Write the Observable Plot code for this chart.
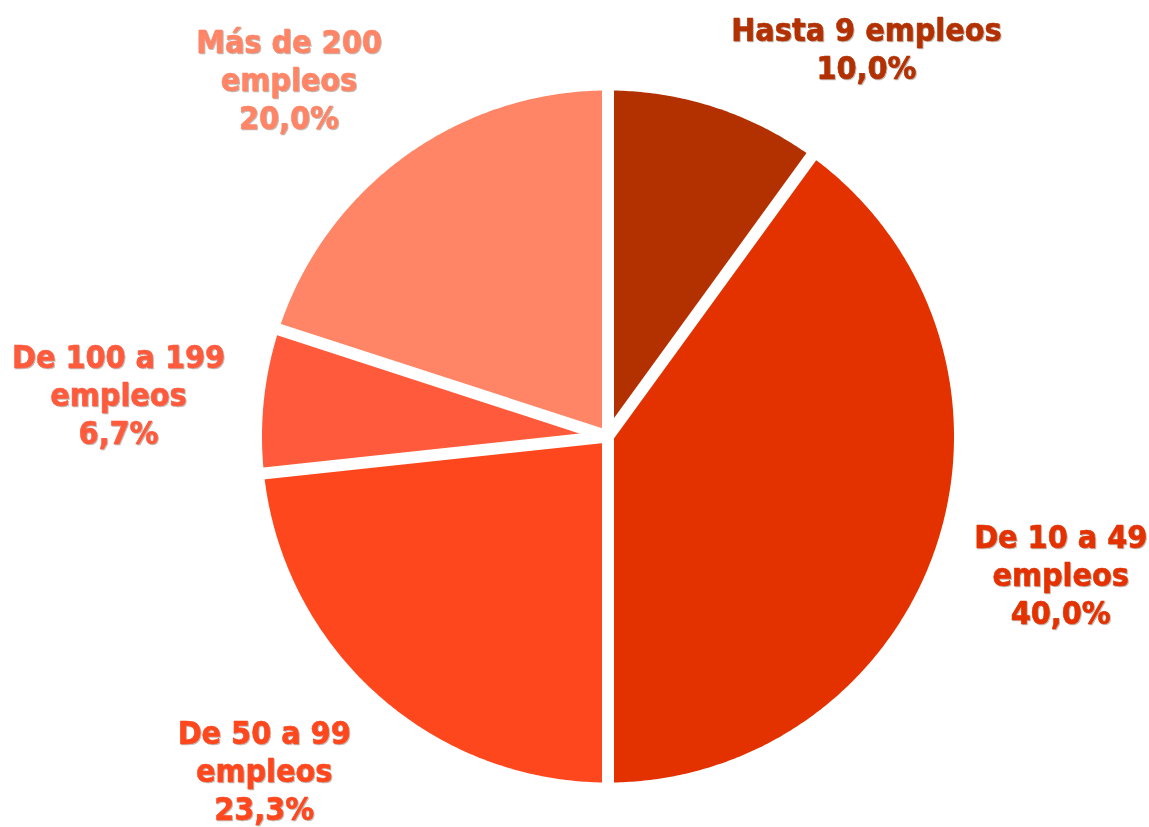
<!DOCTYPE html>
<html>
<head>
<meta charset="utf-8">
<script src="https://cdn.jsdelivr.net/npm/d3@7"></script>
<script src="https://cdn.jsdelivr.net/npm/@observablehq/plot@0.6"></script>
<style>
  html, body { margin: 0; padding: 0; background: #ffffff; }
  #chart svg { display: block; }
  #chart g[aria-label="text"] { filter: drop-shadow(1px 1px 0.6px rgba(60, 20, 0, 0.3)); }
</style>
</head>
<body>
<div id="chart"></div>
<script>
// ---- data ----
const categories = ["Hasta 9 empleos", "De 10 a 49 empleos", "De 50 a 99 empleos", "De 100 a 199 empleos", "Más de 200 empleos"];
const labelNames = ["Hasta 9 empleos", "De 10 a 49\nempleos", "De 50 a 99\nempleos", "De 100 a 199\nempleos", "Más de 200\nempleos"];
const shares = [10.0, 40.0, 23.3, 6.7, 20.0];
const colors = ["#B33000", "#E33200", "#FF471E", "#FF5A3C", "#FF8566"];

// ---- layout ----
const W = 1149, H = 827, CX = 607.5, CY = 436, R = 346;
const FONT = "'DejaVu Sans Condensed', 'DejaVu Sans', sans-serif";
const FS = 32, LH = 38, RNX = 385, RNY = 372, RC = 372, TOP = 9, BOTTOM = -2, GAP = 12;

const fmt = v => v.toFixed(1).replace(".", ",") + "%";

const arcs = d3.pie().sort(null).value(d => d)(shares);

// slice outlines built from the pie angles
const pts = [];
arcs.forEach((a, i) => {
  const n = Math.max(2, Math.ceil((a.endAngle - a.startAngle) / (Math.PI / 360)));
  pts.push({i, x: 0, y: 0});
  for (let k = 0; k <= n; k++) {
    const t = a.startAngle + (a.endAngle - a.startAngle) * k / n;
    pts.push({i, x: R * Math.sin(t), y: R * Math.cos(t)});
  }
  pts.push({i, x: 0, y: 0});
});

// white separators along slice boundaries
const seps = arcs.map(a => ({
  x1: 0, y1: 0,
  x2: (R + 12) * Math.sin(a.startAngle),
  y2: (R + 12) * Math.cos(a.startAngle)
}));

// outside labels placed around the pie along each slice's mid-angle
const ctx = document.createElement("canvas").getContext("2d");
ctx.font = `bold ${FS}px ${FONT}`;
const clampF = v => Math.sign(v) * Math.pow(Math.min(1, Math.abs(v) / 0.58), 1.5);
const labels = arcs.map((a, i) => {
  const text = labelNames[i] + "\n" + fmt(shares[i]);
  const lines = text.split("\n");
  const w = Math.max(...lines.map(l => ctx.measureText(l).width));
  const h = lines.length * LH;
  const m = (a.startAngle + a.endAngle) / 2;
  const dx = Math.sin(m), dy = Math.cos(m);
  let x = RNX * dx + clampF(dx) * w / 2;
  let y = RNY * dy + clampF(dy) * h / 2;
  const yTop = CY - TOP;
  if (y + h / 2 > yTop) {
    y = yTop - h / 2;
    const yb = y - h / 2;
    const cx = Math.sqrt(Math.max(0, RC * RC - yb * yb));
    x = Math.sign(dx) * (cx + w / 2);
  }
  const yBot = -(H - CY - BOTTOM);
  if (y - h / 2 < yBot) y = yBot + h / 2;
  return {x, y, text, color: colors[i], name: categories[i]};
});

const chart = Plot.plot({
  width: W,
  height: H,
  margin: 0,
  x: {domain: [-CX, W - CX], range: [0, W], axis: null},
  y: {domain: [-(H - CY), CY], range: [H, 0], axis: null},
  marks: [
    ...arcs.map((a, i) => Plot.line(pts.filter(p => p.i === i), {
      x: "x", y: "y", fill: colors[i], stroke: "none"
    })),
    Plot.link(seps, {
      x1: "x1", y1: "y1", x2: "x2", y2: "y2",
      stroke: "white", strokeWidth: GAP, strokeLinecap: "butt"
    }),
    ...labels.map(l => Plot.text([l], {
      x: "x", y: "y", text: "text", fill: l.color, stroke: l.color, strokeWidth: 0.6,
      fontSize: FS, fontWeight: "bold", fontFamily: FONT,
      lineHeight: LH / FS, textAnchor: "middle", lineAnchor: "middle"
    }))
  ]
});
document.getElementById("chart").appendChild(chart);
</script>
</body>
</html>
